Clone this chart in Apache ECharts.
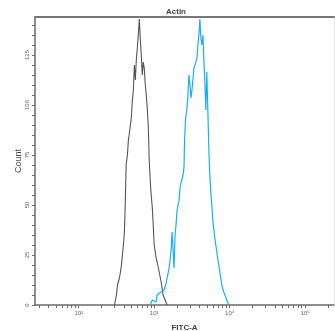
<!DOCTYPE html>
<html><head><meta charset="utf-8">
<script src="https://cdn.jsdelivr.net/npm/echarts@6/dist/echarts.min.js"></script>
<style>html,body{margin:0;padding:0;background:#fff}#c{width:335px;height:331px}</style>
</head><body><div id="c"></div>
<script>
// x values are log10(FITC-A intensity); y values are event counts
var grayX = [2.474,2.500,2.513,2.539,2.553,2.566,2.579,2.592,2.605,2.612,2.618,2.628,2.645,2.658,2.671,2.684,2.697,2.711,2.724,2.737,2.750,2.763,2.776,2.789,2.803,2.816,2.829,2.842,2.855,2.868,2.882,2.895,2.908,2.921,2.934,2.947,2.960,2.974,2.987,3.000,3.013,3.026,3.039,3.066,3.092,3.118,3.145,3.171];
var grayY = [0,5,10,13.5,16.5,20,25,30,36.5,45,52.5,70,75,82.5,86,90,93.5,102.5,107.5,120,112.5,122.5,128.5,135,143,132.5,125,115,121.5,118.5,110,105,98.5,90,72.5,62.5,55,49,40,30,26.5,23.5,21.5,16.5,11.5,5,2.5,0];
var blueX = [2.947,2.974,3.000,3.026,3.039,3.066,3.092,3.132,3.158,3.171,3.197,3.210,3.224,3.237,3.250,3.263,3.276,3.289,3.303,3.316,3.329,3.342,3.355,3.382,3.395,3.401,3.414,3.434,3.447,3.460,3.474,3.487,3.500,3.513,3.526,3.553,3.566,3.579,3.592,3.605,3.618,3.632,3.645,3.658,3.671,3.684,3.697,3.711,3.724,3.737,3.750,3.763,3.776,3.803,3.829,3.855,3.882,3.895,3.921,3.947,3.961,3.987];
var blueY = [0,2.5,3.5,1.5,5,6,6.5,7.5,11,13.5,18.5,22.5,27.5,36.5,27.5,18.5,35,40,47.5,50,52.5,58.5,61,65,69,81,92.5,98.5,105,115,110,103.5,107.5,112.5,118.5,121.5,123.5,130,135,143,133.5,130,135,122.5,111.5,97.5,116.5,96.5,77.5,65,56,50,42.5,33.5,26.5,20,13.5,10,6.5,4,2.5,0];
var xDecades = [2,3,4,5];
var yTickLabels = [0,25,50,75,100,125];
var yMinorStep = 5;
var title = 'Actin', xName = 'FITC-A', yName = 'Count';

var xMin = 1.421, xMax = 5.3815, yMax = 144;
var xMinor = [];
for (var n = 1; n <= 5; n++) for (var k = 1; k <= 9; k++) {
  var v = n + Math.log10(k);
  if (v >= xMin && v <= xMax) xMinor.push(v);
}
var yTicks = [];
for (var t = 0; t <= yMax; t += yMinorStep) yTicks.push(t);
function pairs(xs, ys){ return xs.map(function(x,i){return [x, ys[i]];}); }
var sup = {'2':'²','3':'³','4':'⁴','5':'⁵'};
var axisCol = '#6a6a6a';
var chart = echarts.init(document.getElementById('c'));
chart.setOption({
  animation: false,
  title: {text: title, left: 161, top: 3, textStyle: {fontSize: 8, fontWeight: 'bold', color: '#444', fontFamily: 'Liberation Sans'}},
  grid: {left: 35, right: 1, top: 17, bottom: 26, show: false, containLabel: false, outerBoundsMode: 'none'},
  xAxis: [{
    type: 'value', min: xMin, max: xMax,
    name: xName, nameLocation: 'middle', nameGap: 19, nameMoveOverlap: false,
    nameTextStyle: {fontSize: 8, fontWeight: 'bold', color: '#444', fontFamily: 'Liberation Sans'},
    axisLine: {show: true, lineStyle: {color: axisCol, width: 1.5}},
    axisTick: {show: true, length: 3, customValues: xMinor, lineStyle: {color: axisCol, width: 1}},
    axisLabel: {customValues: xDecades, margin: 5, fontSize: 6, color: '#666', fontFamily: 'Liberation Sans',
      formatter: function(v){ return '10' + (sup[String(Math.round(v))] || ''); }},
    splitLine: {show: false}
  }, {
    type: 'value', min: xMin, max: xMax, position: 'top',
    axisLine: {show: true, onZero: false, lineStyle: {color: '#777', width: 2}},
    axisTick: {show: false}, axisLabel: {show: false}, splitLine: {show: false}
  }],
  yAxis: [{
    type: 'value', min: 0, max: yMax,
    name: yName, nameLocation: 'middle', nameGap: 12, nameMoveOverlap: false,
    nameTextStyle: {fontSize: 9, color: '#444', fontFamily: 'Liberation Sans'},
    axisLine: {show: true, lineStyle: {color: axisCol, width: 1.5}},
    axisTick: {show: true, length: 3, customValues: yTicks, lineStyle: {color: axisCol, width: 1}},
    axisLabel: {customValues: yTickLabels, rotate: 90, margin: 5, fontSize: 6, color: '#666', fontFamily: 'Liberation Sans'},
    splitLine: {show: false}
  }, {
    type: 'value', min: 0, max: yMax, position: 'right',
    axisLine: {show: true, onZero: false, lineStyle: {color: '#e4e4e4', width: 1}},
    axisTick: {show: false}, axisLabel: {show: false}, splitLine: {show: false}
  }],
  series: [
    {type: 'line', data: pairs(grayX, grayY), showSymbol: false, lineStyle: {color: '#555', width: 1.1}, z: 3},
    {type: 'line', data: pairs(blueX, blueY), showSymbol: false, lineStyle: {color: '#1ab0ee', width: 1.2}, z: 4}
  ]
});
</script></body></html>
